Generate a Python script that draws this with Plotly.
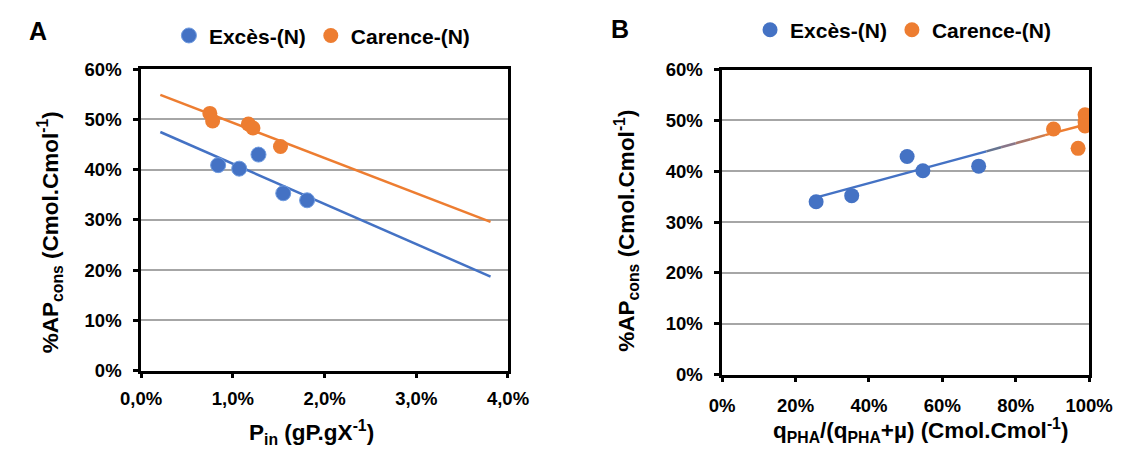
import plotly.graph_objects as go

# ---------------- data (values in %) ----------------
# Panel A : P_in (%) vs %AP_cons (%)
a_exces_x = [0.84, 1.07, 1.28, 1.55, 1.81]
a_exces_y = [40.9, 40.2, 43.0, 35.3, 33.9]
a_carence_x = [0.75, 0.78, 1.17, 1.22, 1.52]
a_carence_y = [51.2, 49.7, 49.1, 48.3, 44.6]
a_trend_exces_x = [0.21, 3.81]
a_trend_exces_y = [47.5, 18.7]
a_trend_carence_x = [0.21, 3.81]
a_trend_carence_y = [54.9, 29.6]

# Panel B : qPHA/(qPHA+mu) (%) vs %AP_cons (%)
b_exces_x = [25.6, 35.3, 50.4, 54.7, 69.9]
b_exces_y = [34.0, 35.2, 42.9, 40.1, 41.0]
b_carence_x = [90.3, 97.0, 98.9, 98.9, 98.9]
b_carence_y = [48.3, 44.5, 51.1, 49.7, 48.9]
# common trend line, read at points where its colour changes
b_trend_x = [25.2, 72, 76, 80, 84, 88, 99.1]
b_trend_y = [34.75, 43.9, 44.7, 45.5, 46.3, 47.1, 49.2]

series_names = ["Excès-(N)", "Carence-(N)"]
a_xticks = [0, 1, 2, 3, 4]
a_xticklabels = ["0,0%", "1,0%", "2,0%", "3,0%", "4,0%"]
b_xticks = [0, 20, 40, 60, 80, 100]
b_xticklabels = ["0%", "20%", "40%", "60%", "80%", "100%"]
y_ticks = [0, 10, 20, 30, 40, 50, 60]
y_ticklabels = ["0%", "10%", "20%", "30%", "40%", "50%", "60%"]

BLUE = "#4472C4"
ORANGE = "#ED7D31"
b_trend_colors = [BLUE, "#667490", "#887689", "#A9786C", "#CB7B4E", ORANGE]

FONT = "Liberation Sans, Arial, sans-serif"
W, H = 1140, 461


def px_x(v):
    return v / W


def px_y(v):
    return 1 - v / H


fig = go.Figure()

# ---- panel A ----
fig.add_trace(go.Scatter(x=a_trend_exces_x, y=a_trend_exces_y, mode="lines",
                         line=dict(color=BLUE, width=2.5), showlegend=False,
                         xaxis="x", yaxis="y", hoverinfo="skip"))
fig.add_trace(go.Scatter(x=a_trend_carence_x, y=a_trend_carence_y, mode="lines",
                         line=dict(color=ORANGE, width=2.5), showlegend=False,
                         xaxis="x", yaxis="y", hoverinfo="skip"))
fig.add_trace(go.Scatter(x=a_exces_x, y=a_exces_y, mode="markers", name=series_names[0],
                         marker=dict(color=BLUE, size=15, line=dict(color="#6F9BE0", width=1)),
                         xaxis="x", yaxis="y", legend="legend"))
fig.add_trace(go.Scatter(x=a_carence_x, y=a_carence_y, mode="markers", name=series_names[1],
                         marker=dict(color=ORANGE, size=15, line=dict(width=0)),
                         xaxis="x", yaxis="y", legend="legend"))

# ---- panel B ----
for i in range(len(b_trend_x) - 1):
    fig.add_trace(go.Scatter(x=b_trend_x[i:i + 2], y=b_trend_y[i:i + 2], mode="lines",
                             line=dict(color=b_trend_colors[i], width=2.5), showlegend=False,
                             xaxis="x2", yaxis="y2", hoverinfo="skip"))
fig.add_trace(go.Scatter(x=b_exces_x, y=b_exces_y, mode="markers", name=series_names[0],
                         marker=dict(color=BLUE, size=15, line=dict(width=0)),
                         xaxis="x2", yaxis="y2", legend="legend2"))
fig.add_trace(go.Scatter(x=b_carence_x, y=b_carence_y, mode="markers", name=series_names[1],
                         marker=dict(color=ORANGE, size=15, line=dict(width=0)),
                         xaxis="x2", yaxis="y2", legend="legend2"))

axis_common = dict(showline=True, linecolor="black", linewidth=2.5, mirror=True,
                   ticks="outside", ticklen=5, tickwidth=2.5, tickcolor="black",
                   tickfont=dict(family=FONT, size=18.5, color="black", weight="bold"),
                   zeroline=False, fixedrange=True)

xa = dict(axis_common, domain=[px_x(125), px_x(507)], range=[0, 4], tickvals=a_xticks,
          ticktext=a_xticklabels, showgrid=False, anchor="y", ticklabelstandoff=5)
ya = dict(axis_common, domain=[px_y(376.7), px_y(61)], range=[0, 60], tickvals=y_ticks,
          ticktext=y_ticklabels, showgrid=True, gridcolor="#A6A6A6", gridwidth=1.5,
          anchor="x", ticklabelstandoff=8)
xb = dict(axis_common, domain=[px_x(730), px_x(1112)], range=[0, 100], tickvals=b_xticks,
          ticktext=b_xticklabels, showgrid=False, anchor="y2", ticklabelstandoff=7)
yb = dict(axis_common, domain=[px_y(381), px_y(61.3)], range=[0, 60], tickvals=y_ticks,
          ticktext=y_ticklabels, showgrid=True, gridcolor="#A6A6A6", gridwidth=1.5,
          anchor="x2", ticklabelstandoff=8)

legend_common = dict(orientation="h", xanchor="left", yanchor="middle",
                     font=dict(family=FONT, size=21, color="black", weight="bold"),
                     bgcolor="rgba(0,0,0,0)", itemwidth=30, tracegroupgap=0)

ytitle = "%AP<sub>cons</sub> (Cmol.Cmol<sup>-1</sup>)"
title_font = dict(family=FONT, size=22.5, color="black", weight="bold")

annotations = [
    dict(text="A", x=px_x(17.5), y=px_y(20.5), xref="paper", yref="paper", showarrow=False,
         font=dict(family=FONT, size=25, color="black", weight="bold"),
         xanchor="center", yanchor="middle"),
    dict(text="B", x=px_x(623.5), y=px_y(18.5), xref="paper", yref="paper", showarrow=False,
         font=dict(family=FONT, size=25, color="black", weight="bold"),
         xanchor="center", yanchor="middle"),
    dict(text=ytitle, x=px_x(30), y=px_y(232), xref="paper", yref="paper", showarrow=False,
         textangle=-90, font=title_font, xanchor="center", yanchor="middle"),
    dict(text=ytitle, x=px_x(630), y=px_y(230), xref="paper", yref="paper", showarrow=False,
         textangle=-90, font=title_font, xanchor="center", yanchor="middle"),
    dict(text="P<sub>in</sub> (gP.gX<sup>-1</sup>)", x=px_x(302), y=px_y(442),
         xref="paper", yref="paper", showarrow=False, font=title_font,
         xanchor="center", yanchor="middle"),
    dict(text="q<sub>PHA</sub>/(q<sub>PHA</sub>+µ) (Cmol.Cmol<sup>-1</sup>)", x=px_x(936),
         y=px_y(439), xref="paper", yref="paper", showarrow=False, font=title_font,
         xanchor="center", yanchor="middle"),
]

fig.update_layout(
    width=W, height=H, margin=dict(l=0, r=0, t=0, b=0),
    paper_bgcolor="white", plot_bgcolor="white",
    font=dict(family=FONT, color="black"),
    xaxis=xa, yaxis=ya, xaxis2=xb, yaxis2=yb,
    legend=dict(legend_common, x=px_x(154), y=px_y(26)),
    legend2=dict(legend_common, x=px_x(759), y=px_y(20)),
    annotations=annotations,
    hovermode=False,
)

fig.write_html("out.html", config={"displayModeBar": False},
               post_script="document.body.style.margin='0';document.body.style.overflow='hidden';")
